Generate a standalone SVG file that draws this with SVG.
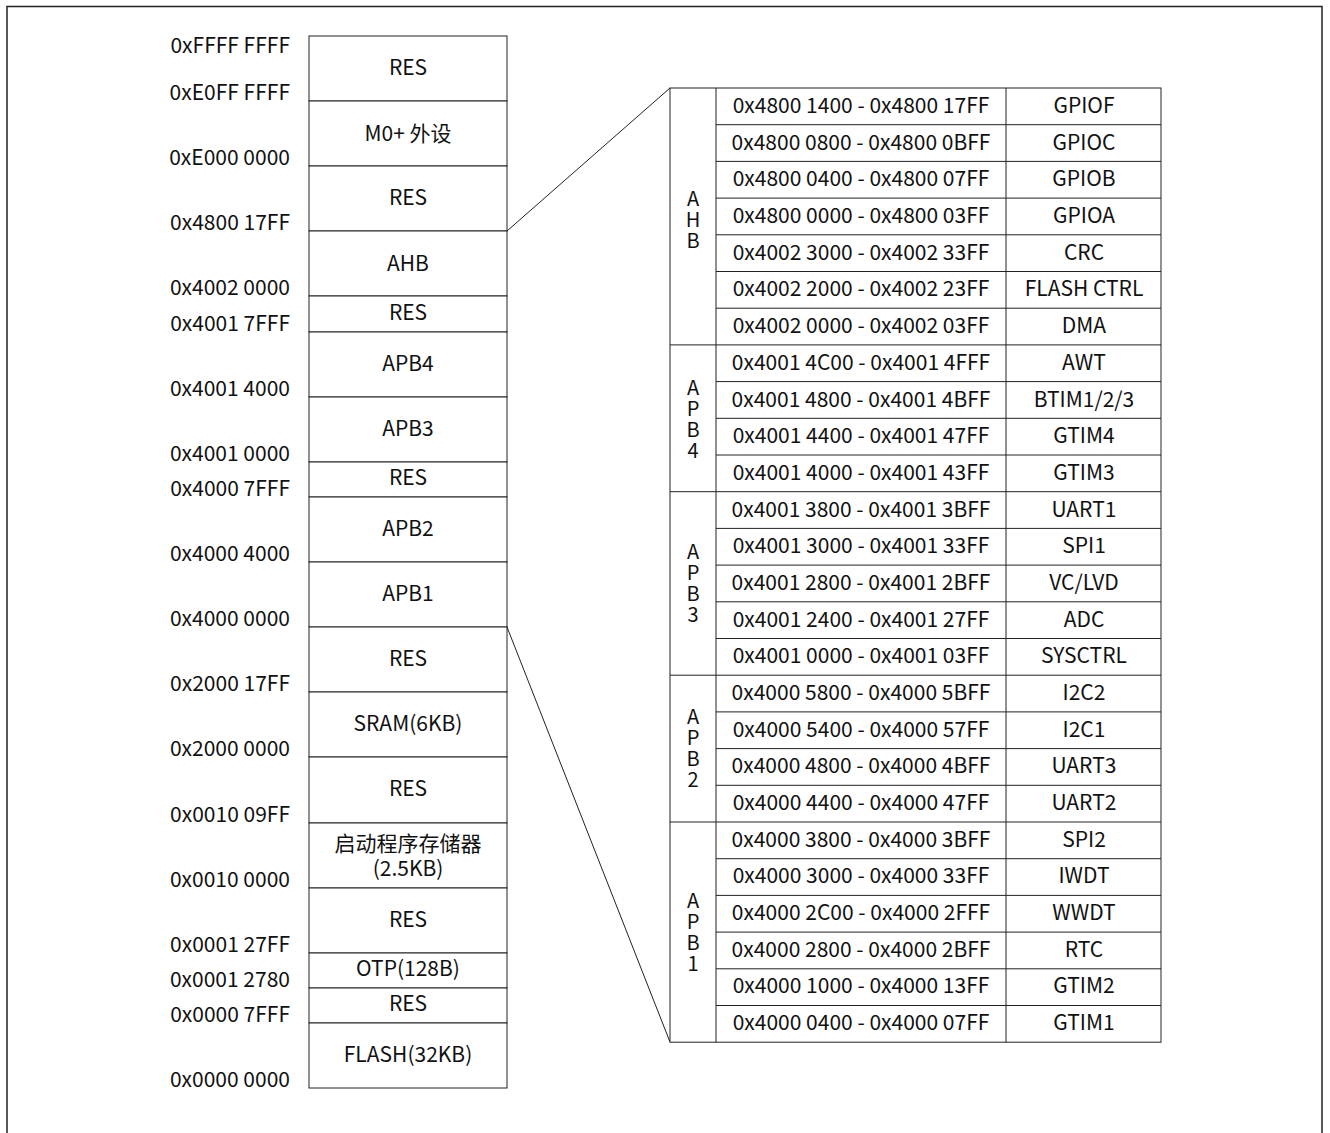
<svg xmlns="http://www.w3.org/2000/svg" width="1330" height="1133" viewBox="0 0 1330 1133">
<style>
text{font-family:"Noto Sans CJK SC","Noto Sans",sans-serif;font-size:21px;fill:#111}
.m{text-anchor:middle}
.e{text-anchor:end}
.v{font-size:20px}
.b{fill:#fff;stroke:#222;stroke-width:1}
.l{stroke:#222;stroke-width:1;fill:none}
</style>
<rect x="7" y="6.5" width="1315" height="1140" fill="#fff" stroke="#222" stroke-width="1.5"/>
<g id="addr-labels">
<text class="e" x="290" y="53">0xFFFF FFFF</text>
<text class="e" x="290" y="100">0xE0FF FFFF</text>
<text class="e" x="290" y="165">0xE000 0000</text>
<text class="e" x="290" y="230">0x4800 17FF</text>
<text class="e" x="290" y="295">0x4002 0000</text>
<text class="e" x="290" y="331">0x4001 7FFF</text>
<text class="e" x="290" y="396">0x4001 4000</text>
<text class="e" x="290" y="461">0x4001 0000</text>
<text class="e" x="290" y="496">0x4000 7FFF</text>
<text class="e" x="290" y="561">0x4000 4000</text>
<text class="e" x="290" y="626">0x4000 0000</text>
<text class="e" x="290" y="691">0x2000 17FF</text>
<text class="e" x="290" y="756">0x2000 0000</text>
<text class="e" x="290" y="822">0x0010 09FF</text>
<text class="e" x="290" y="887">0x0010 0000</text>
<text class="e" x="290" y="952">0x0001 27FF</text>
<text class="e" x="290" y="987">0x0001 2780</text>
<text class="e" x="290" y="1022">0x0000 7FFF</text>
<text class="e" x="290" y="1087">0x0000 0000</text>
</g>
<g id="mem-res1"><rect class="b" x="309" y="36" width="198" height="65"/><text class="m" x="408" y="75">RES</text></g>
<g id="mem-m0"><rect class="b" x="309" y="101" width="198" height="65"/><text class="m" x="408" y="141">M0+ 外设</text></g>
<g id="mem-res2"><rect class="b" x="309" y="166" width="198" height="65"/><text class="m" x="408" y="205">RES</text></g>
<g id="mem-ahb"><rect class="b" x="309" y="231" width="198" height="65"/><text class="m" x="408" y="271">AHB</text></g>
<g id="mem-res3"><rect class="b" x="309" y="296" width="198" height="36"/><text class="m" x="408" y="320">RES</text></g>
<g id="mem-apb4"><rect class="b" x="309" y="332" width="198" height="65"/><text class="m" x="408" y="371">APB4</text></g>
<g id="mem-apb3"><rect class="b" x="309" y="397" width="198" height="65"/><text class="m" x="408" y="436">APB3</text></g>
<g id="mem-res4"><rect class="b" x="309" y="462" width="198" height="35"/><text class="m" x="408" y="485">RES</text></g>
<g id="mem-apb2"><rect class="b" x="309" y="497" width="198" height="65"/><text class="m" x="408" y="536">APB2</text></g>
<g id="mem-apb1"><rect class="b" x="309" y="562" width="198" height="65"/><text class="m" x="408" y="601">APB1</text></g>
<g id="mem-res5"><rect class="b" x="309" y="627" width="198" height="65"/><text class="m" x="408" y="666">RES</text></g>
<g id="mem-sram"><rect class="b" x="309" y="692" width="198" height="65"/><text class="m" x="408" y="731">SRAM(6KB)</text></g>
<g id="mem-res6"><rect class="b" x="309" y="757" width="198" height="66"/><text class="m" x="408" y="796">RES</text></g>
<g id="mem-boot"><rect class="b" x="309" y="823" width="198" height="65"/><text class="m" x="408" y="851">启动程序存储器</text><text class="m" x="408" y="876">(2.5KB)</text></g>
<g id="mem-res7"><rect class="b" x="309" y="888" width="198" height="65"/><text class="m" x="408" y="927">RES</text></g>
<g id="mem-otp"><rect class="b" x="309" y="953" width="198" height="35"/><text class="m" x="408" y="976">OTP(128B)</text></g>
<g id="mem-res8"><rect class="b" x="309" y="988" width="198" height="35"/><text class="m" x="408" y="1011">RES</text></g>
<g id="mem-flash"><rect class="b" x="309" y="1023" width="198" height="65"/><text class="m" x="408" y="1062">FLASH(32KB)</text></g>
<g id="connectors">
<line class="l" x1="507" y1="231" x2="670" y2="88"/>
<line class="l" x1="507" y1="627" x2="670" y2="1042"/>
</g>
<g id="periph-table">
<rect class="b" x="670" y="88" width="491" height="954.2"/>
<line class="l" x1="716" y1="88" x2="716" y2="1042.2"/>
<line class="l" x1="1006" y1="88" x2="1006" y2="1042.2"/>
<g class="l">
<line x1="716" y1="124.7" x2="1161" y2="124.7"/>
<line x1="716" y1="161.4" x2="1161" y2="161.4"/>
<line x1="716" y1="198.1" x2="1161" y2="198.1"/>
<line x1="716" y1="234.8" x2="1161" y2="234.8"/>
<line x1="716" y1="271.5" x2="1161" y2="271.5"/>
<line x1="716" y1="308.2" x2="1161" y2="308.2"/>
<line x1="670" y1="344.9" x2="1161" y2="344.9"/>
<line x1="716" y1="381.6" x2="1161" y2="381.6"/>
<line x1="716" y1="418.3" x2="1161" y2="418.3"/>
<line x1="716" y1="455" x2="1161" y2="455"/>
<line x1="670" y1="491.7" x2="1161" y2="491.7"/>
<line x1="716" y1="528.4" x2="1161" y2="528.4"/>
<line x1="716" y1="565.1" x2="1161" y2="565.1"/>
<line x1="716" y1="601.8" x2="1161" y2="601.8"/>
<line x1="716" y1="638.5" x2="1161" y2="638.5"/>
<line x1="670" y1="675.2" x2="1161" y2="675.2"/>
<line x1="716" y1="711.9" x2="1161" y2="711.9"/>
<line x1="716" y1="748.6" x2="1161" y2="748.6"/>
<line x1="716" y1="785.3" x2="1161" y2="785.3"/>
<line x1="670" y1="822" x2="1161" y2="822"/>
<line x1="716" y1="858.7" x2="1161" y2="858.7"/>
<line x1="716" y1="895.4" x2="1161" y2="895.4"/>
<line x1="716" y1="932.1" x2="1161" y2="932.1"/>
<line x1="716" y1="968.8" x2="1161" y2="968.8"/>
<line x1="716" y1="1005.5" x2="1161" y2="1005.5"/>
</g>
<text class="m v" x="693"><tspan x="693" y="206">A</tspan><tspan x="693" y="227">H</tspan><tspan x="693" y="248">B</tspan></text>
<text class="m v" x="693"><tspan x="693" y="395">A</tspan><tspan x="693" y="416">P</tspan><tspan x="693" y="437">B</tspan><tspan x="693" y="458">4</tspan></text>
<text class="m v" x="693"><tspan x="693" y="559">A</tspan><tspan x="693" y="580">P</tspan><tspan x="693" y="601">B</tspan><tspan x="693" y="622">3</tspan></text>
<text class="m v" x="693"><tspan x="693" y="724">A</tspan><tspan x="693" y="745">P</tspan><tspan x="693" y="766">B</tspan><tspan x="693" y="787">2</tspan></text>
<text class="m v" x="693"><tspan x="693" y="908">A</tspan><tspan x="693" y="929">P</tspan><tspan x="693" y="950">B</tspan><tspan x="693" y="971">1</tspan></text>
<g class="m">
<text class="m" x="861" y="113">0x4800 1400 - 0x4800 17FF</text><text class="m" x="1084" y="113">GPIOF</text>
<text class="m" x="861" y="150">0x4800 0800 - 0x4800 0BFF</text><text class="m" x="1084" y="150">GPIOC</text>
<text class="m" x="861" y="186">0x4800 0400 - 0x4800 07FF</text><text class="m" x="1084" y="186">GPIOB</text>
<text class="m" x="861" y="223">0x4800 0000 - 0x4800 03FF</text><text class="m" x="1084" y="223">GPIOA</text>
<text class="m" x="861" y="260">0x4002 3000 - 0x4002 33FF</text><text class="m" x="1084" y="260">CRC</text>
<text class="m" x="861" y="296">0x4002 2000 - 0x4002 23FF</text><text class="m" x="1084" y="296">FLASH CTRL</text>
<text class="m" x="861" y="333">0x4002 0000 - 0x4002 03FF</text><text class="m" x="1084" y="333">DMA</text>
<text class="m" x="861" y="370">0x4001 4C00 - 0x4001 4FFF</text><text class="m" x="1084" y="370">AWT</text>
<text class="m" x="861" y="407">0x4001 4800 - 0x4001 4BFF</text><text class="m" x="1084" y="407">BTIM1/2/3</text>
<text class="m" x="861" y="443">0x4001 4400 - 0x4001 47FF</text><text class="m" x="1084" y="443">GTIM4</text>
<text class="m" x="861" y="480">0x4001 4000 - 0x4001 43FF</text><text class="m" x="1084" y="480">GTIM3</text>
<text class="m" x="861" y="517">0x4001 3800 - 0x4001 3BFF</text><text class="m" x="1084" y="517">UART1</text>
<text class="m" x="861" y="553">0x4001 3000 - 0x4001 33FF</text><text class="m" x="1084" y="553">SPI1</text>
<text class="m" x="861" y="590">0x4001 2800 - 0x4001 2BFF</text><text class="m" x="1084" y="590">VC/LVD</text>
<text class="m" x="861" y="627">0x4001 2400 - 0x4001 27FF</text><text class="m" x="1084" y="627">ADC</text>
<text class="m" x="861" y="663">0x4001 0000 - 0x4001 03FF</text><text class="m" x="1084" y="663">SYSCTRL</text>
<text class="m" x="861" y="700">0x4000 5800 - 0x4000 5BFF</text><text class="m" x="1084" y="700">I2C2</text>
<text class="m" x="861" y="737">0x4000 5400 - 0x4000 57FF</text><text class="m" x="1084" y="737">I2C1</text>
<text class="m" x="861" y="773">0x4000 4800 - 0x4000 4BFF</text><text class="m" x="1084" y="773">UART3</text>
<text class="m" x="861" y="810">0x4000 4400 - 0x4000 47FF</text><text class="m" x="1084" y="810">UART2</text>
<text class="m" x="861" y="847">0x4000 3800 - 0x4000 3BFF</text><text class="m" x="1084" y="847">SPI2</text>
<text class="m" x="861" y="883">0x4000 3000 - 0x4000 33FF</text><text class="m" x="1084" y="883">IWDT</text>
<text class="m" x="861" y="920">0x4000 2C00 - 0x4000 2FFF</text><text class="m" x="1084" y="920">WWDT</text>
<text class="m" x="861" y="957">0x4000 2800 - 0x4000 2BFF</text><text class="m" x="1084" y="957">RTC</text>
<text class="m" x="861" y="993">0x4000 1000 - 0x4000 13FF</text><text class="m" x="1084" y="993">GTIM2</text>
<text class="m" x="861" y="1030">0x4000 0400 - 0x4000 07FF</text><text class="m" x="1084" y="1030">GTIM1</text>
</g>
</g>
</svg>
